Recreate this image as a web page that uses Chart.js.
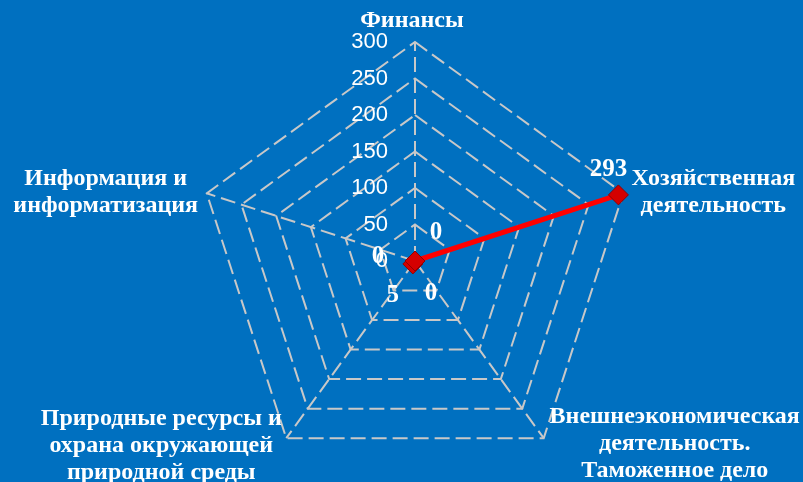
<!DOCTYPE html>
<html>
<head>
<meta charset="utf-8">
<script src="https://cdn.jsdelivr.net/npm/chart.js@4.4.1/dist/chart.umd.min.js"></script>
<style>
  html, body { margin: 0; padding: 0; background: #0070c0; }
</style>
</head>
<body>
<canvas id="chart" width="803" height="482"></canvas>
<script>
const categories = [
  ["Финансы"],
  ["Хозяйственная", "деятельность"],
  ["Внешнеэкономическая", "деятельность.", "Таможенное дело"],
  ["Природные ресурсы и", "охрана окружающей", "природной среды"],
  ["Информация и", "информатизация"],
];
const values = [0, 293, 0, 5, 0];
const tickValues = [0, 50, 100, 150, 200, 250, 300];

// where each category label sits, relative to the outer vertex (x center, first baseline)
const catOffsets = [[-3, -15], [90, -8], [131, -15], [-125, -13], [-101, -8]];
// value labels, relative to the point
const valOffsets = [[21, -28], [-10, -25], [16, 33], [-20, 32], [-37, -4]];

const textPlugin = {
  id: "texts",
  afterDatasetsDraw(chart) {
    const ctx = chart.ctx;
    const r = chart.scales.r;
    ctx.save();
    ctx.fillStyle = "#ffffff";

    // axis numbers, right aligned left of the vertical axis
    ctx.font = '22px "Liberation Sans", Arial, sans-serif';
    ctx.textAlign = "right";
    ctx.textBaseline = "middle";
    tickValues.forEach((v) => {
      const d = r.getDistanceFromCenterForValue(v);
      ctx.fillText(String(v), r.xCenter - 27, r.yCenter - d);
    });

    // category names
    ctx.font = 'bold 24px "Liberation Serif", "Times New Roman", serif';
    ctx.textAlign = "center";
    ctx.textBaseline = "alphabetic";
    categories.forEach((lines, i) => {
      const p = r.getPointPosition(i, r.drawingArea);
      const [dx, dy] = catOffsets[i];
      lines.forEach((line, j) => {
        ctx.fillText(line, p.x + dx, p.y + dy + j * 26.7);
      });
    });

    // value labels
    ctx.font = 'bold 25px "Liberation Serif", "Times New Roman", serif';
    ctx.textBaseline = "middle";
    const meta = chart.getDatasetMeta(0);
    meta.data.forEach((pt, i) => {
      const [dx, dy] = valOffsets[i];
      ctx.fillText(String(values[i]), pt.x + dx, pt.y + dy);
    });
    ctx.restore();
  },
};

new Chart(document.getElementById("chart"), {
  type: "radar",
  data: {
    labels: categories,
    datasets: [
      {
        data: values,
        borderColor: "#ff0000",
        borderWidth: 5,
        fill: false,
        tension: 0,
        pointStyle: "rectRot",
        pointRadius: 10,
        pointBackgroundColor: "#d40000",
        pointBorderColor: "#900000",
        pointBorderWidth: 1,
      },
    ],
  },
  options: {
    responsive: false,
    animation: false,
    layout: { padding: { left: 27, right: 0, top: 42, bottom: 2 } },
    plugins: {
      legend: { display: false },
      tooltip: { enabled: false },
    },
    scales: {
      r: {
        min: 0,
        max: 300,
        ticks: { stepSize: 50, display: false },
        pointLabels: { display: false },
        grid: { color: "#c8c8c8", lineWidth: 2, borderDash: [15, 6] },
        border: { dash: [15, 6] },
        angleLines: { color: "#c8c8c8", lineWidth: 2, borderDash: [15, 6] },
      },
    },
  },
  plugins: [textPlugin],
});
</script>
</body>
</html>
